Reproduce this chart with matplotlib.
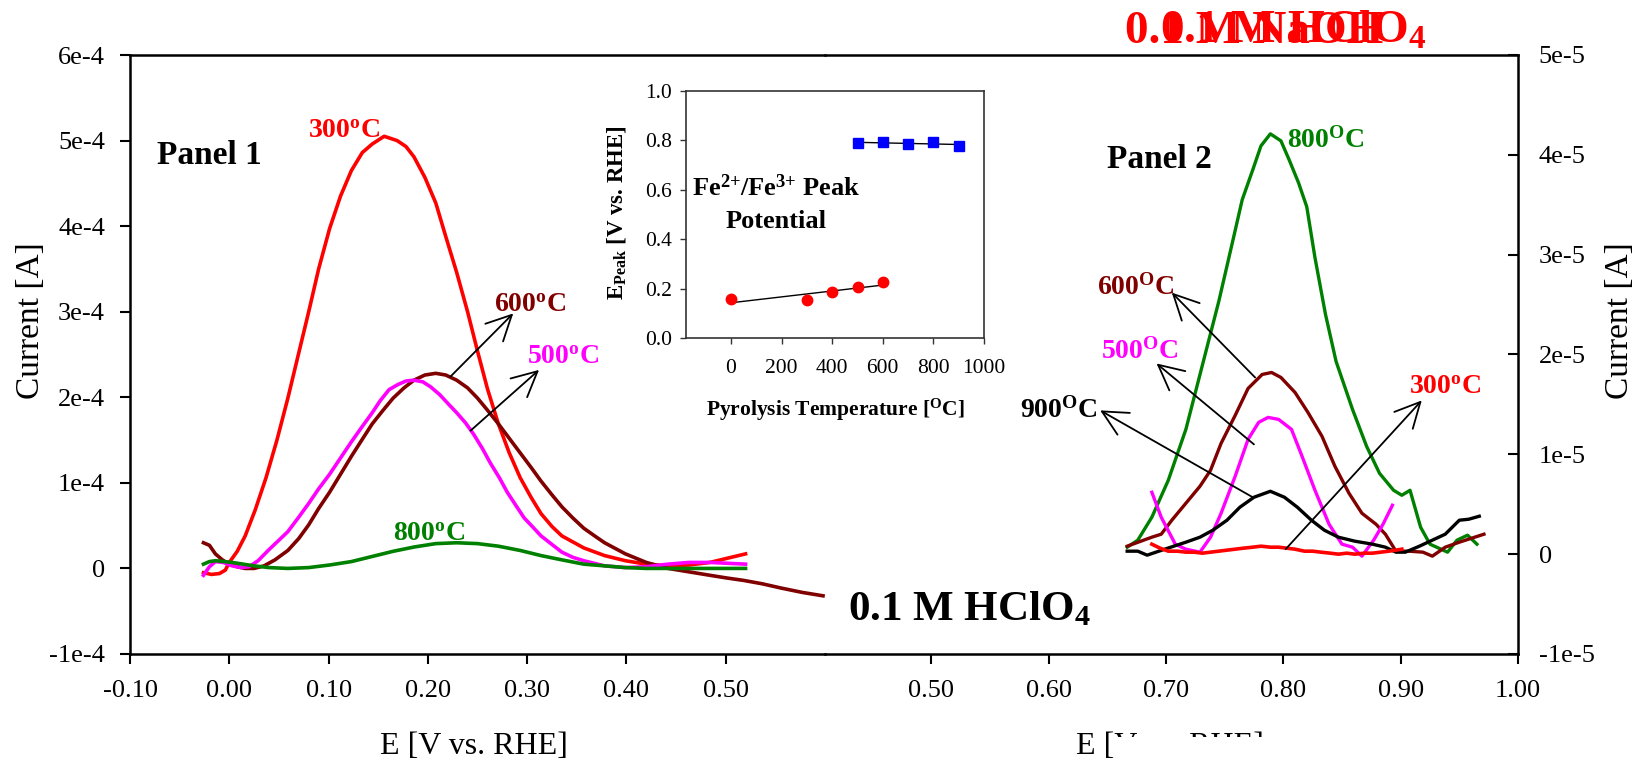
import numpy as np
import matplotlib
matplotlib.use("Agg")
import matplotlib.pyplot as plt
from matplotlib.patches import Rectangle

plt.rcParams['font.family'] = ['Liberation Serif', 'DejaVu Serif']
plt.rcParams['mathtext.default'] = 'regular'

W, H = 1633, 765

# ---------------- Panel 1 : 0.1 M HClO4 (current in units of 1e-4 A) ----------------
P1_SCALE = 1e-4
p1_300_E = [-0.026, -0.018, -0.010, -0.004, 0.000, 0.008, 0.016, 0.026, 0.037, 0.048,
            0.059, 0.070, 0.080, 0.090, 0.101, 0.112, 0.123, 0.134, 0.144, 0.156,
            0.169, 0.178, 0.186, 0.197, 0.208, 0.218, 0.229, 0.240, 0.250, 0.260,
            0.271, 0.282, 0.293, 0.304, 0.314, 0.325, 0.335, 0.357, 0.378, 0.399,
            0.420, 0.442, 0.463, 0.484, 0.502, 0.520]
p1_300_I = [-0.05, -0.07, -0.06, -0.02, 0.07, 0.20, 0.38, 0.68, 1.06, 1.50,
            1.99, 2.52, 3.00, 3.50, 3.97, 4.35, 4.65, 4.86, 4.96, 5.05,
            5.00, 4.93, 4.81, 4.57, 4.27, 3.88, 3.46, 3.00, 2.54, 2.10,
            1.69, 1.35, 1.06, 0.83, 0.64, 0.49, 0.38, 0.24, 0.15, 0.09,
            0.05, 0.03, 0.04, 0.07, 0.12, 0.17]

p1_500_E = [-0.026, -0.020, -0.014, -0.006, 0.003, 0.012, 0.020, 0.029, 0.040, 0.050,
            0.059, 0.070, 0.080, 0.090, 0.101, 0.112, 0.123, 0.134, 0.144, 0.152,
            0.161, 0.170, 0.178, 0.186, 0.195, 0.203, 0.212, 0.220, 0.229, 0.238,
            0.246, 0.255, 0.263, 0.272, 0.280, 0.289, 0.297, 0.306, 0.314, 0.325,
            0.335, 0.346, 0.357, 0.378, 0.399, 0.420, 0.442, 0.463, 0.484, 0.502, 0.520]
p1_500_I = [-0.08, 0.02, 0.08, 0.07, 0.03, 0.01, 0.02, 0.09, 0.22, 0.33,
            0.43, 0.60, 0.76, 0.93, 1.10, 1.29, 1.48, 1.66, 1.82, 1.96,
            2.09, 2.15, 2.19, 2.20, 2.18, 2.12, 2.03, 1.93, 1.82, 1.70,
            1.57, 1.40, 1.23, 1.06, 0.89, 0.73, 0.59, 0.48, 0.38, 0.28,
            0.19, 0.13, 0.09, 0.03, 0.01, 0.02, 0.05, 0.07, 0.07, 0.06, 0.05]

p1_600_E = [-0.026, -0.020, -0.014, -0.007, 0.000, 0.008, 0.016, 0.025, 0.035, 0.046,
            0.059, 0.070, 0.080, 0.090, 0.101, 0.112, 0.123, 0.134, 0.144, 0.155,
            0.165, 0.176, 0.186, 0.197, 0.208, 0.218, 0.229, 0.240, 0.250, 0.260,
            0.271, 0.282, 0.293, 0.304, 0.314, 0.325, 0.335, 0.346, 0.357, 0.368,
            0.378, 0.399, 0.420, 0.442, 0.463, 0.484, 0.500, 0.518, 0.537, 0.556,
            0.577, 0.598]
p1_600_I = [0.30, 0.27, 0.17, 0.10, 0.05, 0.02, 0.00, 0.00, 0.03, 0.10,
            0.21, 0.35, 0.51, 0.70, 0.89, 1.10, 1.31, 1.51, 1.69, 1.85,
            1.99, 2.11, 2.20, 2.26, 2.28, 2.26, 2.20, 2.11, 1.99, 1.85,
            1.69, 1.52, 1.35, 1.18, 1.02, 0.86, 0.72, 0.59, 0.47, 0.38,
            0.30, 0.17, 0.07, 0.00, -0.04, -0.08, -0.11, -0.14, -0.18, -0.23,
            -0.28, -0.32]

p1_800_E = [-0.026, -0.020, -0.014, -0.005, 0.003, 0.014, 0.025, 0.040, 0.059, 0.080,
            0.101, 0.123, 0.144, 0.165, 0.186, 0.208, 0.229, 0.250, 0.271, 0.293,
            0.314, 0.335, 0.357, 0.378, 0.399, 0.420, 0.442, 0.480, 0.520]
p1_800_I = [0.05, 0.08, 0.09, 0.08, 0.07, 0.05, 0.03, 0.01, 0.00, 0.01,
            0.04, 0.08, 0.14, 0.20, 0.25, 0.29, 0.30, 0.29, 0.26, 0.21,
            0.15, 0.10, 0.05, 0.03, 0.01, 0.00, 0.00, 0.00, 0.00]

# ---------------- Panel 2 : 0.1 M NaOH (current in units of 1e-5 A) ----------------
P2_SCALE = 1e-5
p2_800_E = [0.667, 0.676, 0.688, 0.702, 0.717, 0.731, 0.745, 0.757, 0.765, 0.774,
            0.781, 0.789, 0.798, 0.805, 0.813, 0.820, 0.827, 0.836, 0.845, 0.852,
            0.859, 0.871, 0.882, 0.894, 0.901, 0.908, 0.917, 0.925, 0.940, 0.948,
            0.957, 0.965]
p2_800_I = [0.07, 0.14, 0.37, 0.74, 1.25, 1.89, 2.53, 3.14, 3.55, 3.85,
            4.09, 4.21, 4.14, 3.95, 3.72, 3.48, 2.97, 2.40, 1.93, 1.69,
            1.45, 1.08, 0.81, 0.64, 0.59, 0.64, 0.27, 0.10, 0.02, 0.14,
            0.19, 0.10]

p2_600_E = [0.667, 0.688, 0.696, 0.705, 0.717, 0.729, 0.738, 0.747, 0.759, 0.770,
            0.782, 0.790, 0.798, 0.810, 0.821, 0.833, 0.844, 0.856, 0.867, 0.879,
            0.887, 0.896, 0.907, 0.919, 0.927, 0.938, 0.950, 0.971]
p2_600_I = [0.08, 0.17, 0.20, 0.34, 0.51, 0.68, 0.84, 1.11, 1.39, 1.66,
            1.80, 1.82, 1.77, 1.62, 1.42, 1.18, 0.88, 0.61, 0.41, 0.30,
            0.20, 0.03, 0.03, 0.02, -0.02, 0.07, 0.12, 0.20]

p2_500_E = [0.688, 0.696, 0.708, 0.717, 0.729, 0.738, 0.747, 0.759, 0.770, 0.779,
            0.787, 0.796, 0.807, 0.816, 0.827, 0.839, 0.850, 0.859, 0.867, 0.877,
            0.885, 0.893]
p2_500_I = [0.62, 0.37, 0.10, 0.05, 0.02, 0.17, 0.41, 0.78, 1.15, 1.32,
            1.37, 1.35, 1.25, 0.98, 0.64, 0.30, 0.10, 0.07, -0.02, 0.14,
            0.30, 0.49]

p2_900_E = [0.667, 0.676, 0.684, 0.699, 0.717, 0.729, 0.740, 0.752, 0.763, 0.775,
            0.789, 0.801, 0.812, 0.824, 0.835, 0.847, 0.861, 0.876, 0.887, 0.896,
            0.904, 0.916, 0.927, 0.938, 0.950, 0.958, 0.967]
p2_900_I = [0.03, 0.03, -0.01, 0.05, 0.12, 0.17, 0.24, 0.34, 0.47, 0.57,
            0.63, 0.57, 0.47, 0.34, 0.24, 0.17, 0.13, 0.10, 0.07, 0.02,
            0.02, 0.08, 0.14, 0.20, 0.34, 0.35, 0.38]

p2_300_E = [0.688, 0.695, 0.702, 0.710, 0.717, 0.724, 0.731, 0.738, 0.745, 0.752,
            0.759, 0.766, 0.774, 0.781, 0.789, 0.796, 0.803, 0.810, 0.818, 0.825,
            0.832, 0.840, 0.847, 0.854, 0.861, 0.869, 0.876, 0.883, 0.890, 0.896, 0.901]
p2_300_I = [0.10, 0.06, 0.03, 0.03, 0.02, 0.02, 0.01, 0.02, 0.03, 0.04,
            0.05, 0.06, 0.07, 0.08, 0.07, 0.07, 0.06, 0.05, 0.03, 0.03,
            0.02, 0.01, 0.00, 0.01, 0.00, 0.01, 0.01, 0.02, 0.03, 0.04, 0.05]

# ---------------- Inset : peak potential vs pyrolysis temperature ----------------
low_T = [0, 300, 400, 500, 600]
low_Epeak = [0.157, 0.152, 0.185, 0.206, 0.228]
high_T = [500, 600, 700, 800, 900]
high_Epeak = [0.789, 0.794, 0.785, 0.792, 0.779]

# Tick labels
p1_xticks = [-0.10, 0.00, 0.10, 0.20, 0.30, 0.40, 0.50]
p1_yticks = [-1e-4, 0, 1e-4, 2e-4, 3e-4, 4e-4, 5e-4, 6e-4]
p1_yticklabels = ['-1e-4', '0', '1e-4', '2e-4', '3e-4', '4e-4', '5e-4', '6e-4']
p2_xticks = [0.50, 0.60, 0.70, 0.80, 0.90, 1.00]
p2_yticks = [-1e-5, 0, 1e-5, 2e-5, 3e-5, 4e-5, 5e-5]
p2_yticklabels = ['-1e-5', '0', '1e-5', '2e-5', '3e-5', '4e-5', '5e-5']
inset_xticks = [0, 200, 400, 600, 800, 1000]
inset_yticks = [0.0, 0.2, 0.4, 0.6, 0.8, 1.0]

RED, MAGENTA, DARKRED, GREEN, BLUE = '#ff0000', '#ff00ff', '#800000', '#008000', '#0000ff'

fig = plt.figure(figsize=(W / 100, H / 100), dpi=100)


def px_box(x0, y0, x1, y1):
    return [x0 / W, 1 - y1 / H, (x1 - x0) / W, (y1 - y0) / H]


def fx(px):
    return px / W


def fy(py):
    return 1 - py / H


ax1 = fig.add_axes(px_box(130, 55, 825, 654))
ax2 = fig.add_axes(px_box(825, 55, 1518, 654))
for ax in (ax1, ax2):
    ax.set_facecolor('none')
    for s in ax.spines.values():
        s.set_linewidth(1.8)
ax1.spines['right'].set_visible(False)
ax2.spines['left'].set_visible(False)

TICK_FS = 19

# Panel 1 curves
lw1 = 2.6
ax1.plot(p1_300_E, np.array(p1_300_I) * P1_SCALE, color=RED, lw=lw1)
ax1.plot(p1_600_E, np.array(p1_600_I) * P1_SCALE, color=DARKRED, lw=lw1)
ax1.plot(p1_500_E, np.array(p1_500_I) * P1_SCALE, color=MAGENTA, lw=lw1)
ax1.plot(p1_800_E, np.array(p1_800_I) * P1_SCALE, color=GREEN, lw=lw1)

ax1.set_xlim(-0.10, 0.60)
ax1.set_ylim(-1e-4, 6e-4)
ax1.set_xticks(p1_xticks)
ax1.set_xticklabels([f'{v:.2f}' for v in p1_xticks])
ax1.set_yticks(p1_yticks)
ax1.set_yticklabels(p1_yticklabels)
ax1.tick_params(axis='both', direction='out', length=7, width=1.5, labelsize=TICK_FS)
ax1.tick_params(axis='x', pad=12)
ax1.tick_params(axis='y', pad=11)

lbl = dict(fontsize=20, fontweight='bold', va='baseline', ha='left')
ax1.text(-0.073, 4.73e-4, 'Panel 1', fontsize=24, fontweight='bold', va='baseline')
ax1.text(0.079, 5.03e-4, '300$^{o}$C', color=RED, **lbl)
ax1.text(0.267, 3.00e-4, '600$^{o}$C', color=DARKRED, **lbl)
ax1.text(0.300, 2.39e-4, '500$^{o}$C', color=MAGENTA, **lbl)
ax1.text(0.165, 0.32e-4, '800$^{o}$C', color=GREEN, **lbl)

arrow = dict(arrowstyle='->,head_length=0.9,head_width=0.45', color='black', lw=1.3,
             shrinkA=0, shrinkB=0, mutation_scale=20)
ax1.annotate('', xy=(0.286, 2.98e-4), xytext=(0.2226, 2.24e-4), arrowprops=arrow)
ax1.annotate('', xy=(0.312, 2.32e-4), xytext=(0.243, 1.61e-4), arrowprops=arrow)

# Panel 2 curves
lw2 = 2.4
ax2.plot(p2_800_E, np.array(p2_800_I) * P2_SCALE, color=GREEN, lw=lw2)
ax2.plot(p2_600_E, np.array(p2_600_I) * P2_SCALE, color=DARKRED, lw=lw2)
ax2.plot(p2_500_E, np.array(p2_500_I) * P2_SCALE, color=MAGENTA, lw=lw2)
ax2.plot(p2_900_E, np.array(p2_900_I) * P2_SCALE, color='black', lw=lw2)
ax2.plot(p2_300_E, np.array(p2_300_I) * P2_SCALE, color=RED, lw=2.6)

ax2.set_xlim(0.4095, 1.00)
ax2.set_ylim(-1e-5, 5e-5)
ax2.set_xticks(p2_xticks)
ax2.set_xticklabels([f'{v:.2f}' for v in p2_xticks])
ax2.yaxis.tick_right()
ax2.set_yticks(p2_yticks)
ax2.set_yticklabels(p2_yticklabels)
ax2.tick_params(axis='x', direction='out', length=7, width=1.5, labelsize=TICK_FS, pad=12)
ax2.tick_params(axis='y', direction='in', length=7, width=1.5, labelsize=TICK_FS, pad=15)

ax2.text(0.650, 3.87e-5, 'Panel 2', fontsize=24, fontweight='bold', va='baseline')
ax2.text(0.803, 4.07e-5, '800$^{O}$C', color=GREEN, **lbl)
ax2.text(0.641, 2.60e-5, '600$^{O}$C', color=DARKRED, **lbl)
ax2.text(0.645, 1.96e-5, '500$^{O}$C', color=MAGENTA, **lbl)
ax2.text(0.642, 1.37e-5, '900$^{O}$C', color='black', fontsize=20, fontweight='bold',
         va='baseline', ha='right')
ax2.text(0.907, 1.60e-5, '300$^{o}$C', color=RED, **lbl)

ax2.annotate('', xy=(0.705, 2.62e-5), xytext=(0.776, 1.77e-5), arrowprops=arrow)
ax2.annotate('', xy=(0.692, 1.91e-5), xytext=(0.775, 1.10e-5), arrowprops=arrow)
ax2.annotate('', xy=(0.644, 1.44e-5), xytext=(0.774, 0.57e-5), arrowprops=arrow)
ax2.annotate('', xy=(0.918, 1.54e-5), xytext=(0.802, 0.05e-5), arrowprops=arrow)

# Inset
axi = fig.add_axes(px_box(686, 91, 984, 338))
axi.set_facecolor('white')
for s in axi.spines.values():
    s.set_linewidth(1.2)
    s.set_color('#333333')
axi.plot(low_T, low_Epeak, 'o', color=RED, ms=7.5, zorder=3)
axi.plot(high_T, high_Epeak, 's', color=BLUE, ms=7, zorder=3)
for T, E in ((low_T, low_Epeak), (high_T, high_Epeak)):
    k, b = np.polyfit(T, E, 1)
    tt = np.array([min(T), max(T)])
    axi.plot(tt, k * tt + b, color='black', lw=1.0, zorder=2)
axi.set_xlim(-178, 1000)
axi.set_ylim(0, 1.0)
axi.set_xticks(inset_xticks)
axi.set_xticklabels([str(v) for v in inset_xticks])
axi.set_yticks(inset_yticks)
axi.set_yticklabels([f'{v:.1f}' for v in inset_yticks])
axi.tick_params(axis='both', direction='out', length=4, width=1.0, labelsize=15.5,
                color='#333333')
axi.tick_params(axis='x', pad=11)
axi.tick_params(axis='y', pad=6)
axi.text(178, 0.575, 'Fe$^{2{+}}$/Fe$^{3{+}}$ Peak', fontsize=19, fontweight='bold',
         ha='center', va='baseline')
axi.text(178, 0.445, 'Potential', fontsize=19, fontweight='bold', ha='center', va='baseline')
fig.text(fx(617), fy(213), 'E$_{Peak}$ [V vs. RHE]', rotation=90, fontsize=16.5,
         fontweight='bold', ha='center', va='center')
fig.text(fx(835), fy(410), 'Pyrolysis Temperature [$^{O}$C]', fontsize=15.5,
         fontweight='bold', ha='center', va='center')

# Axis titles
fig.text(fx(31), fy(321), 'Current [A]', rotation=90, fontsize=24, ha='center', va='center')
fig.text(fx(1620), fy(321), 'Current [A]', rotation=90, fontsize=24, ha='center', va='center')
fig.text(fx(474), fy(747), 'E [V vs. RHE]', fontsize=23, ha='center', va='center')
fig.text(fx(1076), fy(747), 'E [V vs. RHE]', fontsize=23, ha='left', va='center')

# Electrolyte labels
fig.text(fx(848), fy(620), '0.1 M HClO$_4$', fontsize=31, fontweight='bold', va='baseline')
fig.text(fx(1125), fy(43), '0.1 M NaOH', fontsize=34, fontweight='bold', color=RED,
         va='baseline')
fig.text(fx(1160), fy(43), '0.1 M HClO$_4$', fontsize=34, fontweight='bold', color=RED,
         va='baseline')

# blank strip over the lower part of the right-hand axis title
fig.add_artist(Rectangle((fx(1117), 0), fx(1280) - fx(1117), fy(737),
                         transform=fig.transFigure, facecolor='white',
                         edgecolor='none', zorder=10))

fig.savefig('out.png', dpi=100)
